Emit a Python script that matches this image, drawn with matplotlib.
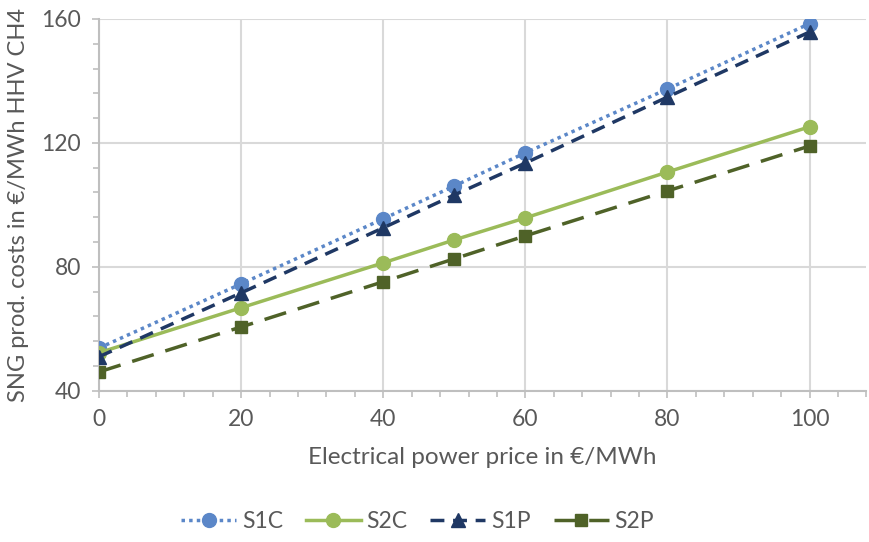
import matplotlib.pyplot as plt
from matplotlib.ticker import MultipleLocator

plt.rcParams['font.family'] = ['Lato', 'DejaVu Sans']

# power price (€/MWh)
x = [0, 20, 40, 50, 60, 80, 100]

# SNG production costs (€/MWh HHV CH4)
s1c = [53.8, 74.5, 95.5, 106.1, 116.8, 137.4, 158.5]
s2c = [52.3, 66.8, 81.3, 88.7, 95.8, 110.6, 125.2]
s1p = [51.0, 71.6, 92.6, 103.2, 113.5, 134.8, 155.8]
s2p = [46.1, 60.6, 75.2, 82.6, 90.0, 104.5, 119.0]

grey = '#595959'
axis_grey = '#BFBFBF'
grid_grey = '#D9D9D9'

fig = plt.figure(figsize=(8.69, 5.42), dpi=100)
ax = fig.add_axes([0.114, 0.279, 0.883, 0.686])

ax.plot(x, s1c, linestyle=(0, (1, 1.2)), lw=2.5, color='#5B87C8',
        marker='o', markersize=10, label='S1C', zorder=3)
ax.plot(x, s2c, linestyle='-', lw=2.5, color='#9BBB59',
        marker='o', markersize=10, label='S2C', zorder=3)
ax.plot(x, s1p, linestyle=(0, (4, 2.5)), lw=2.5, color='#1F3864',
        marker='^', markersize=10, label='S1P', zorder=3)
ax.plot(x, s2p, linestyle=(0, (6.5, 3.5)), lw=2.5, color='#4F6228',
        marker='s', markersize=9, label='S2P', zorder=3)

ax.set_xlim(0, 108)
ax.set_ylim(40, 160)
ax.xaxis.set_major_locator(MultipleLocator(20))
ax.xaxis.set_minor_locator(MultipleLocator(4))
ax.yaxis.set_major_locator(MultipleLocator(40))
ax.yaxis.set_minor_locator(MultipleLocator(8))

ax.grid(True, which='major', color=grid_grey, lw=1.5, zorder=0)
ax.set_axisbelow(True)

for side in ['top', 'right']:
    ax.spines[side].set_visible(False)
for side in ['left', 'bottom']:
    ax.spines[side].set_color(axis_grey)
    ax.spines[side].set_linewidth(1.5)

ax.tick_params(which='major', direction='out', length=5, width=1.2, color=axis_grey,
               labelcolor=grey, labelsize=16.5, pad=8)
ax.tick_params(which='minor', direction='out', length=4, width=1.2, color=axis_grey)

ax.set_xlabel('Electrical power price in €/MWh', fontsize=17.5, color=grey, labelpad=12)
ax.set_ylabel('SNG prod. costs in €/MWh HHV CH4', fontsize=17, color=grey, labelpad=9)

leg = ax.legend(loc='center', bbox_to_anchor=(0.415, -0.352), ncol=4, frameon=False,
                fontsize=16.5, handlelength=2.4, columnspacing=1.0, handletextpad=0.25)
for t in leg.get_texts():
    t.set_color(grey)

fig.savefig('out.png', dpi=100)
